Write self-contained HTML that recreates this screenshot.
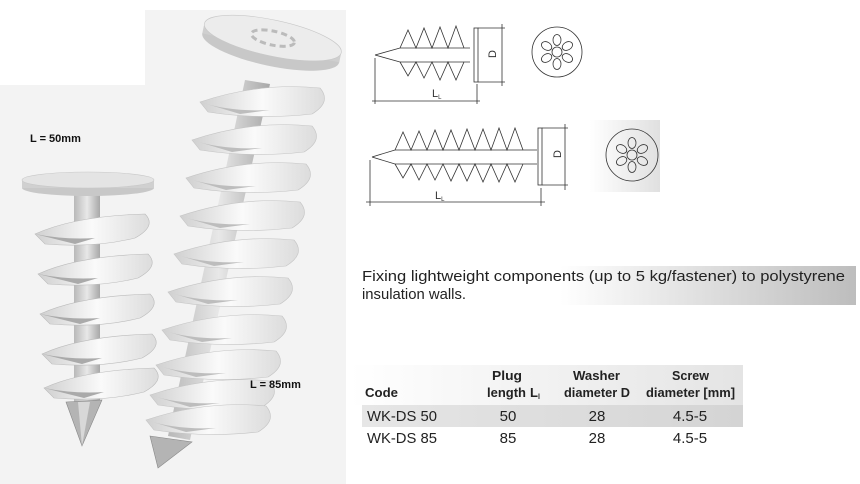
<!DOCTYPE html>
<html><head><meta charset="utf-8"><style>
html,body{margin:0;padding:0;background:#fff;width:860px;height:484px;overflow:hidden}
svg{display:block}
text{font-family:"Liberation Sans",sans-serif}
</style></head><body>
<svg width="860" height="484" viewBox="0 0 860 484" xmlns="http://www.w3.org/2000/svg">
<defs>
<linearGradient id="bandg" x1="0" x2="1"><stop offset="0" stop-color="#fff"/><stop offset="1" stop-color="#bdbdbd"/></linearGradient>
<linearGradient id="hdrg" x1="0" x2="1"><stop offset="0" stop-color="#fff"/><stop offset="1" stop-color="#e4e4e4"/></linearGradient>
<linearGradient id="rowg" x1="0" x2="1"><stop offset="0" stop-color="#e6e6e6"/><stop offset="1" stop-color="#d4d4d4"/></linearGradient>
<linearGradient id="circg" x1="0" x2="1"><stop offset="0" stop-color="#fff"/><stop offset="1" stop-color="#e0e0e0"/></linearGradient>
<linearGradient id="shaft" x1="0" x2="1"><stop offset="0" stop-color="#b8b8b8"/><stop offset="0.5" stop-color="#e8e8e8"/><stop offset="1" stop-color="#a8a8a8"/></linearGradient>
<linearGradient id="thr" x1="0" x2="1"><stop offset="0" stop-color="#d0d0d0"/><stop offset="0.5" stop-color="#fafafa"/><stop offset="1" stop-color="#dcdcdc"/></linearGradient>
<g id="th1"><path d="M0,12 Q40,-6 110,-8 Q122,4 100,16 Q60,26 10,22 Z" fill="url(#thr)" stroke="#bbb" stroke-width="0.6"/><path d="M0,12 Q30,18 60,16 L40,22 Z" fill="#aaa"/></g>
<g id="th2"><path d="M0,10 Q60,-10 120,-4 Q132,10 112,22 Q60,28 8,20 Z" fill="url(#thr)" stroke="#c4c4c4" stroke-width="0.6"/><path d="M0,10 Q30,20 70,18 L40,22 Z" fill="#bdbdbd"/></g>
<g id="pet" fill="none" stroke="#333" stroke-width="0.8">
<ellipse cx="0" cy="-12" rx="4" ry="5.5"/>
<ellipse cx="0" cy="-12" rx="4" ry="5.5" transform="rotate(60)"/>
<ellipse cx="0" cy="-12" rx="4" ry="5.5" transform="rotate(120)"/>
<ellipse cx="0" cy="-12" rx="4" ry="5.5" transform="rotate(180)"/>
<ellipse cx="0" cy="-12" rx="4" ry="5.5" transform="rotate(240)"/>
<ellipse cx="0" cy="-12" rx="4" ry="5.5" transform="rotate(300)"/>
<circle r="5"/>
</g>
</defs>

<rect x="0" y="85" width="346" height="399" fill="#f3f3f3"/>
<rect x="145" y="10" width="201" height="80" fill="#f3f3f3"/>

<rect x="74" y="192" width="26" height="210" fill="url(#shaft)"/>
<use href="#th1" x="35" y="222"/>
<use href="#th1" x="38" y="262"/>
<use href="#th1" x="40" y="302"/>
<use href="#th1" x="42" y="342"/>
<use href="#th1" x="44" y="376"/>
<path d="M66,402 L102,400 L82,446 Z" fill="#b4b4b4" stroke="#888" stroke-width="0.6"/>
<path d="M78,402 L90,402 L82,446 Z" fill="#d8d8d8"/>
<ellipse cx="88" cy="188" rx="66" ry="8" fill="#c8c8c8"/>
<rect x="22" y="180" width="132" height="8" fill="#d0d0d0"/>
<ellipse cx="88" cy="180" rx="66" ry="8" fill="#e4e4e4" stroke="#c8c8c8" stroke-width="0.6"/>

<path d="M245,80 L270,84 L190,440 L168,436 Z" fill="url(#shaft)"/>
<use href="#th2" x="200" y="92"/>
<use href="#th2" x="192" y="130"/>
<use href="#th2" x="186" y="168"/>
<use href="#th2" x="180" y="206"/>
<use href="#th2" x="174" y="244"/>
<use href="#th2" x="168" y="282"/>
<use href="#th2" x="162" y="320"/>
<use href="#th2" x="156" y="355"/>
<use href="#th2" x="150" y="385"/>
<use href="#th2" x="146" y="410"/>
<path d="M150,436 L192,442 L158,468 Z" fill="#b4b4b4" stroke="#888" stroke-width="0.6"/>
<g transform="rotate(12 272 42)">
<ellipse cx="272" cy="48" rx="70" ry="18" fill="#c8c8c8"/>
<rect x="202" y="38" width="140" height="10" fill="#cfcfcf"/>
<ellipse cx="272" cy="38" rx="70" ry="18" fill="#ececec" stroke="#c8c8c8" stroke-width="0.6"/>
<ellipse cx="272" cy="38" rx="22" ry="7" fill="none" stroke="#bbb" stroke-width="3" stroke-dasharray="6 4"/>
</g>

<text x="30" y="142" font-weight="bold" font-size="11" fill="#111">L = 50mm</text>
<text x="250" y="388" font-weight="bold" font-size="11" fill="#111">L = 85mm</text>

<g stroke="#333" stroke-width="0.8" fill="none">
<path d="M375,55 L400,48 L470,48 M375,55 L400,62 L470,62"/>
<path d="M400,48 L408,30 L416,48 L424,28 L432,48 L440,27 L448,48 L456,26 L464,48"/>
<path d="M400,62 L408,76 L416,62 L424,78 L432,62 L440,80 L448,62 L456,80 L464,62"/>
<rect x="474" y="28" width="4" height="54"/>
<path d="M478,28 L505,28 M478,82 L505,82 M502,24 L502,86 M375,58 L375,104 M477,84 L477,104 M372,101 L480,101"/>
<circle cx="557" cy="52" r="25"/>
</g>
<use href="#pet" x="557" y="52"/>
<text x="490" y="60" font-size="11" transform="rotate(-90 492 56)" fill="#333">D</text>
<text x="432" y="97" font-size="11" fill="#333">L<tspan font-size="6" dy="2">L</tspan></text>

<rect x="590" y="120" width="70" height="72" fill="url(#circg)"/>
<g stroke="#333" stroke-width="0.8" fill="none">
<path d="M372,157 L395,150 L537,150 M372,157 L395,164 L537,164"/>
<path d="M395,150 L403,132 L411,150 L419,131 L427,150 L435,130 L443,150 L451,130 L459,150 L467,129 L475,150 L483,129 L491,150 L499,128 L507,150 L515,128 L523,150"/>
<path d="M395,164 L403,178 L411,164 L419,180 L427,164 L435,180 L443,164 L451,181 L459,164 L467,181 L475,164 L483,182 L491,164 L499,182 L507,164 L515,182 L523,164"/>
<rect x="538" y="128" width="4" height="57"/>
<path d="M542,128 L568,128 M542,185 L568,185 M565,124 L565,190 M370,160 L370,206 M541,188 L541,206 M366,202 L545,202"/>
<circle cx="632" cy="155" r="26"/>
</g>
<use href="#pet" x="632" y="155"/>
<text x="553" y="160" font-size="11" transform="rotate(-90 556 155)" fill="#333">D</text>
<text x="435" y="199" font-size="11" fill="#333">L<tspan font-size="6" dy="2">L</tspan></text>

<rect x="560" y="266" width="296" height="39" fill="url(#bandg)"/>
<text x="362" y="281" font-size="15" fill="#222" textLength="483" lengthAdjust="spacingAndGlyphs">Fixing lightweight components (up to 5 kg/fastener) to polystyrene</text>
<text x="362" y="299" font-size="15" fill="#222" textLength="104" lengthAdjust="spacingAndGlyphs">insulation walls.</text>

<rect x="350" y="365" width="393" height="40" fill="url(#hdrg)"/>
<rect x="362" y="405" width="381" height="22" fill="url(#rowg)"/>
<g font-weight="bold" font-size="13" fill="#222">
<text x="365" y="397" textLength="33" lengthAdjust="spacingAndGlyphs">Code</text>
<text x="492" y="380" textLength="30" lengthAdjust="spacingAndGlyphs">Plug</text>
<text x="487" y="397">length</text>
<text x="530" y="397">L</text><text x="538" y="399" font-size="7">l</text>
<text x="573" y="380" textLength="47" lengthAdjust="spacingAndGlyphs">Washer</text>
<text x="564" y="397" textLength="66" lengthAdjust="spacingAndGlyphs">diameter D</text>
<text x="672" y="380" textLength="37" lengthAdjust="spacingAndGlyphs">Screw</text>
<text x="646" y="397" textLength="89" lengthAdjust="spacingAndGlyphs">diameter [mm]</text>
</g>
<g font-size="15" fill="#222">
<text x="367" y="421" textLength="70" lengthAdjust="spacingAndGlyphs">WK-DS 50</text>
<text x="508" y="421" text-anchor="middle">50</text>
<text x="597" y="421" text-anchor="middle">28</text>
<text x="690" y="421" text-anchor="middle">4.5-5</text>
<text x="367" y="443" textLength="70" lengthAdjust="spacingAndGlyphs">WK-DS 85</text>
<text x="508" y="443" text-anchor="middle">85</text>
<text x="597" y="443" text-anchor="middle">28</text>
<text x="690" y="443" text-anchor="middle">4.5-5</text>
</g>
</svg>
</body></html>
